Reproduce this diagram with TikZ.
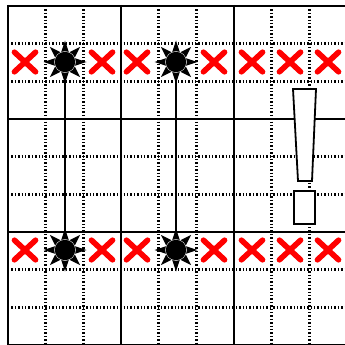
\documentclass[tikz,border=0pt]{standalone}
\usetikzlibrary{shapes.misc,calc}
\tikzset{
  thickline/.style={line width=2.4pt, black},
  dotline/.style={line width=2.4pt, black, dash pattern=on 1.4pt off 2pt},
  redx/.style={cross out, draw=red, line width=5.6pt, line cap=round, minimum width=15.5pt, minimum height=14pt, inner sep=0pt},
  sun/.style={circle, fill=black, minimum size=20.5pt, inner sep=0pt, outer sep=0pt},
  link/.style={line width=2.4pt, black},
  bang/.style={draw=black, fill=white, line width=1.8pt, line join=miter}
}
\begin{document}
\begin{tikzpicture}[x=1pt,y=-1pt]
\useasboundingbox (0,0) rectangle (345,345);
\fill[white] (0,0) rectangle (345,345);
\begin{scope}
\clip (0,0) rectangle (345,345);
% dotted grid
\foreach \i in {1,2,4,5,7,8} {
  \draw[dotline] ({8+37.67*\i},6) -- ({8+37.67*\i},350);
  \draw[dotline] (8,{6+37.67*\i}) -- (350,{6+37.67*\i});
}
% thick grid
\foreach \i in {0,3,6,9} {
  \draw[thickline] ({8+37.67*\i},5) -- ({8+37.67*\i},350);
  \draw[thickline] (7,{6+37.67*\i}) -- (350,{6+37.67*\i});
}
\end{scope}
% exclamation mark
\draw[bang] (293,89) -- (316,89) -- (312,181) -- (298,181) -- cycle;
\draw[bang] (294,191) rectangle (315,224);
% suns
\coordinate (c1) at (65,62);
\coordinate (c2) at (176,62);
\coordinate (c3) at (65,250);
\coordinate (c4) at (176,250);
\draw[link] (c1) -- (c3);
\draw[link] (c2) -- (c4);
\foreach \s in {1,2,3,4} {
  \foreach \a in {0,45,...,315} {
    \fill[black] ($(c\s)+(\a-27:9.5)$) -- ($(c\s)+(\a:21.5)$) -- ($(c\s)+(\a+27:9.5)$) -- cycle;
  }
  \fill[white] (c\s) circle (10.8);
  \node[sun] (s\s) at (c\s) {};
}
% red crosses
\foreach \n/\x in {a/25,b/102,c/137,d/214,e/252,f/290,g/328} {
  \node[redx] (x\n1) at (\x,62) {};
  \node[redx] (x\n2) at (\x,250) {};
}
\end{tikzpicture}
\end{document}
